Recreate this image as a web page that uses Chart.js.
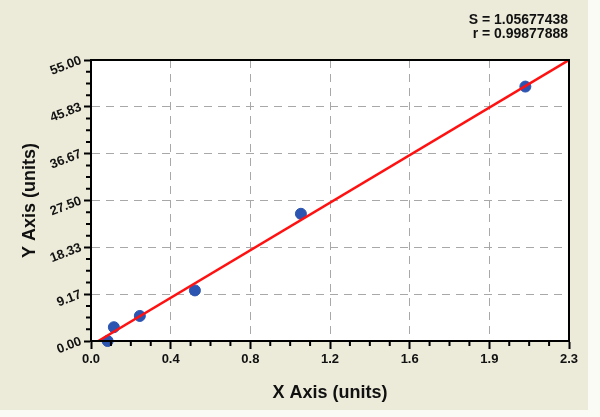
<!DOCTYPE html>
<html>
<head>
<meta charset="utf-8">
<script src="https://cdn.jsdelivr.net/npm/chart.js@4/dist/chart.umd.min.js"></script>
<style>
  html, body { margin: 0; padding: 0; background: #fbfbf5; }
  #wrap { width: 600px; height: 417px; }
</style>
</head>
<body>
<div id="wrap"><canvas id="myChart" width="600" height="417"></canvas></div>
<script>
// dados
const xValues = [0.08, 0.11, 0.235, 0.50, 1.01, 2.09];
const yValues = [0.0, 2.7, 4.9, 9.9, 24.9, 49.8];
const fitX = [0.035, 2.3];
const fitY = [0, 55];
const xTickLabels = ['0.0', '0.4', '0.8', '1.2', '1.6', '1.9', '2.3'];
const yTickLabels = ['0.00', '9.17', '18.33', '27.50', '36.67', '45.83', '55.00'];
const statLines = ['S = 1.05677438', 'r = 0.99877888'];

const xMax = 2.3, yMax = 55;
const font = 'Liberation Sans, Arial, sans-serif';

const fundo = {
  id: 'fundo',
  beforeDraw(chart) {
    const ctx = chart.ctx, a = chart.chartArea;
    ctx.save();
    ctx.fillStyle = '#ecead9';
    ctx.fillRect(0, 0, 588, 410);
    ctx.fillStyle = '#ffffff';
    ctx.fillRect(a.left, a.top, a.right - a.left, a.bottom - a.top);
    ctx.restore();
  },
  afterDraw(chart) {
    const ctx = chart.ctx, a = chart.chartArea;
    const sx = chart.scales.x, sy = chart.scales.y;
    ctx.save();
    // minor ticks
    ctx.strokeStyle = '#000';
    ctx.lineWidth = 2;
    ctx.beginPath();
    for (let i = 0; i < 6; i++) {
      for (let k = 1; k < 4; k++) {
        const px = sx.getPixelForValue((i + k / 4) * xMax / 6);
        ctx.moveTo(px, a.bottom);
        ctx.lineTo(px, a.bottom + 5);
        const py = sy.getPixelForValue((i + k / 4) * yMax / 6);
        ctx.moveTo(a.left, py);
        ctx.lineTo(a.left - 5, py);
      }
    }
    ctx.stroke();
    // borda
    ctx.strokeRect(a.left, a.top, a.right - a.left, a.bottom - a.top);
    // S e r
    ctx.fillStyle = '#111';
    ctx.font = 'bold 14px ' + font;
    ctx.textAlign = 'right';
    ctx.textBaseline = 'middle';
    ctx.fillText(statLines[0], 568, 20);
    ctx.fillText(statLines[1], 568, 34);
    ctx.restore();
  }
};

new Chart(document.getElementById('myChart'), {
  type: 'scatter',
  data: {
    datasets: [
      {
        data: fitX.map((x, i) => ({ x: x, y: fitY[i] })),
        showLine: true,
        borderColor: '#ff1111',
        borderWidth: 2.5,
        pointRadius: 0,
        order: 0
      },
      {
        data: xValues.map((x, i) => ({ x: x, y: yValues[i] })),
        backgroundColor: '#2c55b2',
        borderColor: '#2c55b2',
        pointRadius: 5.5,
        clip: false,
        order: 1
      }
    ]
  },
  options: {
    responsive: false,
    animation: false,
    layout: { padding: { top: 60, right: 31, left: 0, bottom: 0 } },
    plugins: { legend: { display: false }, tooltip: { enabled: false } },
    scales: {
      x: {
        type: 'linear',
        min: 0,
        max: xMax,
        afterBuildTicks: s => { s.ticks = xTickLabels.map((t, i) => ({ value: i * xMax / 6 })); },
        afterFit: s => { s.height = 76; },
        ticks: {
          callback: (v, i) => xTickLabels[i],
          color: '#111',
          font: { family: font, size: 13, weight: 'bold' },
          padding: 3,
          maxRotation: 0
        },
        grid: { color: '#a8a8a8', tickColor: '#000', tickWidth: 2, tickLength: 8 },
        border: { color: '#000', width: 2, dash: [8, 6] },
        title: {
          display: true,
          text: 'X Axis (units)',
          color: '#111',
          font: { family: font, size: 18, weight: 'bold' },
          padding: { top: 0, bottom: 13 }
        }
      },
      y: {
        min: 0,
        max: yMax,
        afterBuildTicks: s => { s.ticks = yTickLabels.map((t, i) => ({ value: i * yMax / 6 })); },
        afterFit: s => { s.width = 91; },
        ticks: {
          callback: (v, i) => yTickLabels[i],
          color: '#111',
          font: { family: font, size: 13, weight: 'bold' },
          padding: 3,
          minRotation: 21,
          maxRotation: 21
        },
        grid: { color: '#a8a8a8', tickColor: '#000', tickWidth: 2, tickLength: 7 },
        border: { color: '#000', width: 2, dash: [8, 6] },
        title: {
          display: true,
          text: 'Y Axis (units)',
          color: '#111',
          font: { family: font, size: 18, weight: 'bold' },
          padding: { top: 19, bottom: 0 }
        }
      }
    }
  },
  plugins: [fundo]
});
</script>
</body>
</html>
